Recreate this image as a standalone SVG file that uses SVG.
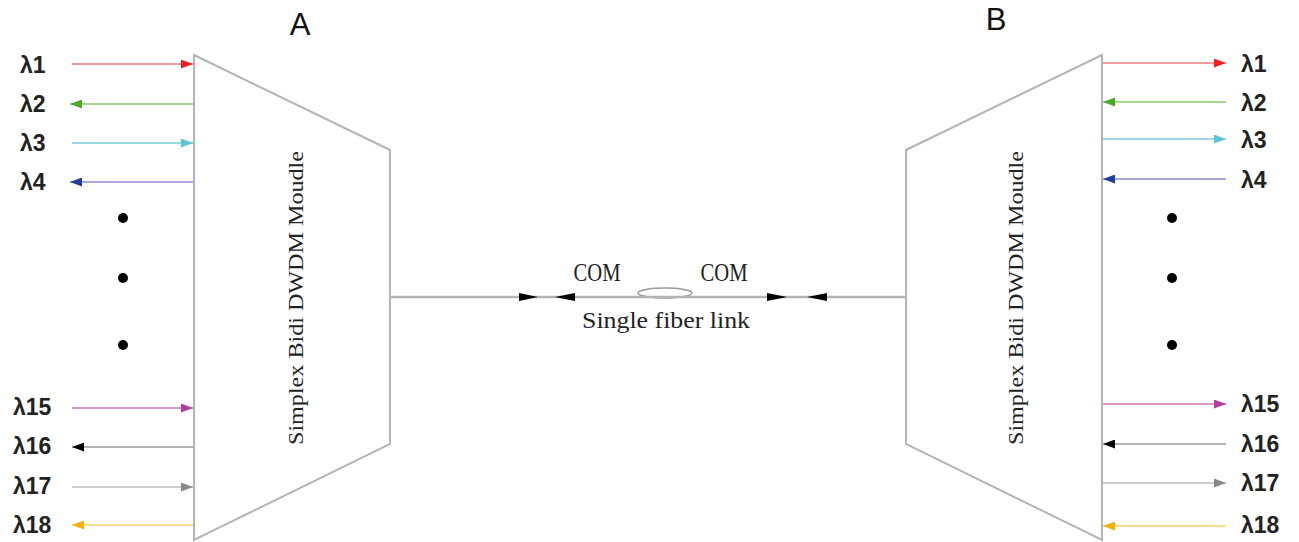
<svg xmlns="http://www.w3.org/2000/svg" width="1299" height="542" viewBox="0 0 1299 542">
<style>
.mod{fill:#ffffff;stroke:#b4b4b4;stroke-width:2}
.lbl{font-family:"Liberation Sans",Arial,sans-serif;font-size:23px;font-weight:bold;fill:#222}
.hdr{font-family:"Liberation Sans",Arial,sans-serif;font-size:31px;fill:#111}
.ser{font-family:"Liberation Serif","Times New Roman",serif;fill:#222}
.ln{stroke-width:2;fill:none}
.dot{fill:#000}
.fa{fill:#000}
</style>
<defs>
<marker id="ar" viewBox="0 0 12 9" refX="12" refY="4.5" markerWidth="12" markerHeight="9" markerUnits="userSpaceOnUse" orient="auto"><path d="M0,0L12,4.5L0,9Z" fill="#ee2020"/></marker>
<marker id="ag" viewBox="0 0 12 9" refX="12" refY="4.5" markerWidth="12" markerHeight="9" markerUnits="userSpaceOnUse" orient="auto"><path d="M0,0L12,4.5L0,9Z" fill="#4aa828"/></marker>
<marker id="ac" viewBox="0 0 12 9" refX="12" refY="4.5" markerWidth="12" markerHeight="9" markerUnits="userSpaceOnUse" orient="auto"><path d="M0,0L12,4.5L0,9Z" fill="#5cc4d4"/></marker>
<marker id="ab" viewBox="0 0 12 9" refX="12" refY="4.5" markerWidth="12" markerHeight="9" markerUnits="userSpaceOnUse" orient="auto"><path d="M0,0L12,4.5L0,9Z" fill="#203c9c"/></marker>
<marker id="am" viewBox="0 0 12 9" refX="12" refY="4.5" markerWidth="12" markerHeight="9" markerUnits="userSpaceOnUse" orient="auto"><path d="M0,0L12,4.5L0,9Z" fill="#b0409c"/></marker>
<marker id="ak" viewBox="0 0 12 9" refX="12" refY="4.5" markerWidth="12" markerHeight="9" markerUnits="userSpaceOnUse" orient="auto"><path d="M0,0L12,4.5L0,9Z" fill="#000"/></marker>
<marker id="ay" viewBox="0 0 12 9" refX="12" refY="4.5" markerWidth="12" markerHeight="9" markerUnits="userSpaceOnUse" orient="auto"><path d="M0,0L12,4.5L0,9Z" fill="#888"/></marker>
<marker id="ao" viewBox="0 0 12 9" refX="12" refY="4.5" markerWidth="12" markerHeight="9" markerUnits="userSpaceOnUse" orient="auto"><path d="M0,0L12,4.5L0,9Z" fill="#f2b000"/></marker>
</defs>

<g id="moduleA">
<polygon class="mod" points="194,55 390,150 390,444 194,540"/>
<text class="ser" font-size="22" transform="translate(303,298) rotate(-90)" text-anchor="middle" textLength="294" lengthAdjust="spacingAndGlyphs">Simplex Bidi DWDM Moudle</text>
<text class="hdr" x="300" y="35" text-anchor="middle">A</text>
</g>

<g id="moduleB">
<polygon class="mod" points="1102,55 906,150 906,444 1102,540"/>
<text class="ser" font-size="22" transform="translate(1023,298) rotate(-90)" text-anchor="middle" textLength="294" lengthAdjust="spacingAndGlyphs">Simplex Bidi DWDM Moudle</text>
<text class="hdr" x="996" y="30" text-anchor="middle">B</text>
</g>

<g id="labelsA">
<text class="lbl" x="20" y="73">λ1</text>
<text class="lbl" x="20" y="112">λ2</text>
<text class="lbl" x="20" y="151">λ3</text>
<text class="lbl" x="20" y="190">λ4</text>
<text class="lbl" x="13" y="415">λ15</text>
<text class="lbl" x="13" y="454">λ16</text>
<text class="lbl" x="13" y="494">λ17</text>
<text class="lbl" x="13" y="533">λ18</text>
<circle class="dot" cx="123" cy="218" r="5"/>
<circle class="dot" cx="123" cy="278" r="5"/>
<circle class="dot" cx="123" cy="345" r="5"/>
</g>

<g id="labelsB">
<text class="lbl" x="1241" y="72">λ1</text>
<text class="lbl" x="1241" y="111">λ2</text>
<text class="lbl" x="1241" y="148">λ3</text>
<text class="lbl" x="1241" y="188">λ4</text>
<text class="lbl" x="1241" y="412">λ15</text>
<text class="lbl" x="1241" y="452">λ16</text>
<text class="lbl" x="1241" y="491">λ17</text>
<text class="lbl" x="1241" y="533">λ18</text>
<circle class="dot" cx="1172" cy="218" r="5"/>
<circle class="dot" cx="1172" cy="278" r="5"/>
<circle class="dot" cx="1172" cy="345" r="5"/>
</g>

<g id="link">
<text class="ser" x="597" y="281" font-size="25" text-anchor="middle" fill="#4a4a4a" textLength="47" lengthAdjust="spacingAndGlyphs">COM</text>
<text class="ser" x="724" y="281" font-size="25" text-anchor="middle" fill="#4a4a4a" textLength="47" lengthAdjust="spacingAndGlyphs">COM</text>
<ellipse cx="665" cy="293" rx="27" ry="5" fill="none" stroke="#999" stroke-width="1.5"/>
<text class="ser" x="666" y="328" font-size="24" text-anchor="middle" textLength="168" lengthAdjust="spacingAndGlyphs">Single fiber link</text>
</g>

<g id="connectors">
<line x1="390" y1="297" x2="906" y2="297" stroke="#b4b4b4" stroke-width="2.5"/>
<path class="fa" d="M519,293L538,297L519,301Z"/>
<path class="fa" d="M575,293L555,297L575,301Z"/>
<path class="fa" d="M767,293L787,297L767,301Z"/>
<path class="fa" d="M827,293L807,297L827,301Z"/>

<line class="ln" stroke="#f49a9a" x1="72" y1="64" x2="193" y2="64" marker-end="url(#ar)"/>
<line class="ln" stroke="#a8d890" x1="193" y1="104" x2="70" y2="104" marker-end="url(#ag)"/>
<line class="ln" stroke="#98d8e2" x1="72" y1="143" x2="193" y2="143" marker-end="url(#ac)"/>
<line class="ln" stroke="#a8a8d8" x1="193" y1="182" x2="70" y2="182" marker-end="url(#ab)"/>
<line class="ln" stroke="#d898cc" x1="72" y1="408" x2="193" y2="408" marker-end="url(#am)"/>
<line class="ln" stroke="#b4b4b4" x1="193" y1="447" x2="72" y2="447" marker-end="url(#ak)"/>
<line class="ln" stroke="#cccccc" x1="72" y1="487" x2="193" y2="487" marker-end="url(#ay)"/>
<line class="ln" stroke="#f8dc90" x1="193" y1="525" x2="72" y2="525" marker-end="url(#ao)"/>

<line class="ln" stroke="#f49a9a" x1="1103" y1="63" x2="1226" y2="63" marker-end="url(#ar)"/>
<line class="ln" stroke="#a8d890" x1="1226" y1="102" x2="1103" y2="102" marker-end="url(#ag)"/>
<line class="ln" stroke="#98d8e2" x1="1103" y1="139" x2="1226" y2="139" marker-end="url(#ac)"/>
<line class="ln" stroke="#a8a8d8" x1="1226" y1="179" x2="1103" y2="179" marker-end="url(#ab)"/>
<line class="ln" stroke="#d898cc" x1="1103" y1="404" x2="1226" y2="404" marker-end="url(#am)"/>
<line class="ln" stroke="#b4b4b4" x1="1226" y1="444" x2="1103" y2="444" marker-end="url(#ak)"/>
<line class="ln" stroke="#cccccc" x1="1103" y1="483" x2="1226" y2="483" marker-end="url(#ay)"/>
<line class="ln" stroke="#f8dc90" x1="1226" y1="526" x2="1103" y2="526" marker-end="url(#ao)"/>
</g>
</svg>
